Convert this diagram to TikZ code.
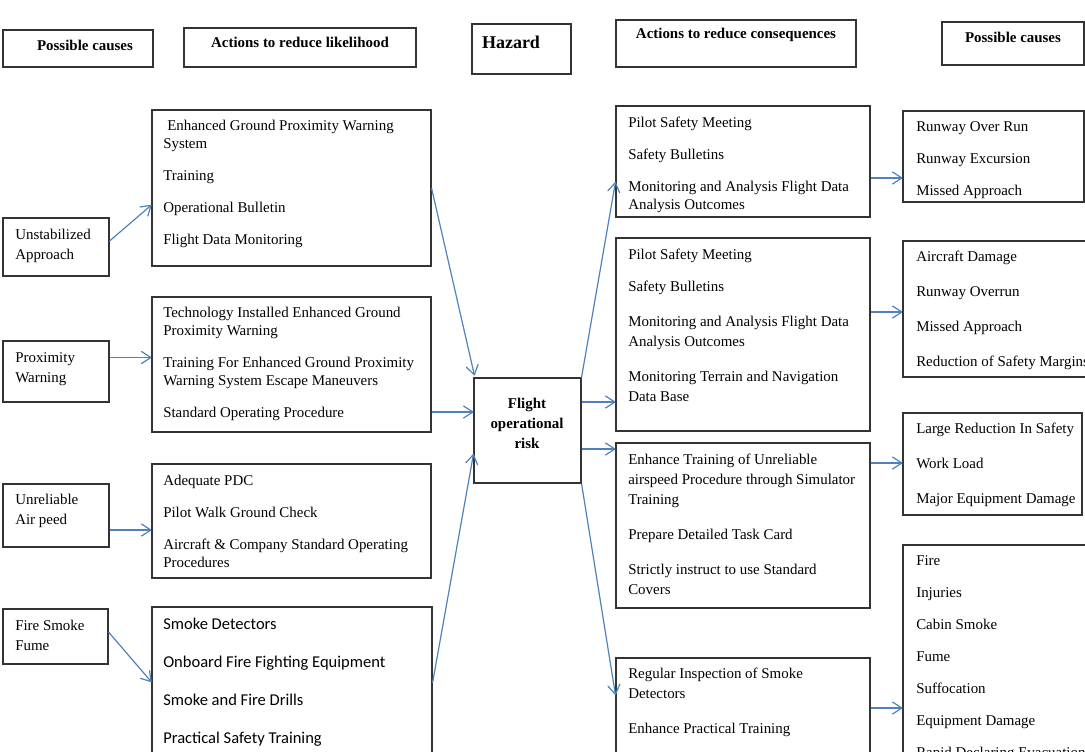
\documentclass[tikz,border=0pt]{standalone}
\usepackage{fontspec}
\setmainfont{Liberation Serif}
\newfontfamily\calibri{Carlito}
\usetikzlibrary{positioning,fit,calc,arrows.meta}
\definecolor{linkblue}{RGB}{79,129,189}
\newcommand\bodyfont{\fontsize{11.2}{13.5}\selectfont}
\newcommand\widefont{\fontsize{11.2}{15}\selectfont}
\newcommand\gap{\\[10.5pt]}
\newcommand\wgap{\\[11.25pt]}
\tikzset{%
  >={Straight Barb[length=7pt,width=9pt,round]},
  box/.style={draw=black!80,line width=0.8pt,inner sep=0pt},
  txt/.style={anchor=north west,align=left,inner sep=0pt,font=\bodyfont},
  wtxt/.style={txt,font=\widefont},
  head/.style={inner sep=0pt,font=\fontsize{11.2}{13.5}\selectfont\bfseries},
  link/.style={->,draw=linkblue,line width=0.9pt}%
}

\begin{document}
\begin{tikzpicture}[x=0.75pt,y=-0.75pt]
	%% page, in pixels of the reference
	\useasboundingbox (0,0) rectangle (1085,751);
	\clip (0,0) rectangle (1085,751);
	
	%% column heads
	\node[box,fit={(3,30) (153,67)}] (pc1) {};
	\node[box,fit={(184,28) (416,67)}] (alk) {};
	\node[box,fit={(472,24) (571,74)}] (hz) {};
	\node[box,fit={(616,20) (856,67)}] (aco) {};
	\node[box,fit={(942,22) (1084,65)}] (pc2) {};
	\node[head] (pc1t) at (85,45) {Possible causes};
	\node[head] (alkt) at (300,42) {Actions to reduce likelihood};
	\node[head,font=\fontsize{13.5}{15}\selectfont\bfseries] (hzt) at (511,42) {Hazard};
	\node[head] (acot) at (736,35) {Actions to reduce consequences};
	\node[head] (pc2t) at (1013,37) {Possible causes};
	
	%% possible causes
	\node[box,fit={(3,218) (109,276)}] (c1) {};
	\node[box,fit={(3,341) (109,402)}] (c2) {};
	\node[box,fit={(3,484) (109,547)}] (c3) {};
	\node[box,fit={(3,609) (108,664)}] (c4) {};
	\node[wtxt] (c1t) at (15,229) {Unstabilized\\Approach};
	\node[wtxt] (c2t) at (15,352) {Proximity\\Warning};
	\node[wtxt] (c3t) at (15,494) {Unreliable\\Air peed};
	\node[wtxt] (c4t) at (15,620) {Fire Smoke\\Fume};
	
	%% actions to reduce likelihood
	\node[box,fit={(152,110) (431,266)}] (l1) {};
	\node[box,fit={(152,297) (431,432)}] (l2) {};
	\node[box,fit={(152,464) (431,578)}] (l3) {};
	\node[box,fit={(152,607) (432,770)}] (l4) {};
	\node[txt] (l1t) at (163,120) {\hspace{3pt}Enhanced Ground Proximity Warning\\System\gap
		Training\gap Operational Bulletin\gap Flight Data Monitoring};
	\node[txt] (l2t) at (163,307) {Technology Installed Enhanced Ground\\Proximity Warning\gap
		Training For Enhanced Ground Proximity\\Warning System Escape Maneuvers\gap
		Standard Operating Procedure};
	\node[txt] (l3t) at (163,475) {Adequate PDC\gap Pilot Walk Ground Check\gap
		Aircraft \& Company Standard Operating\\Procedures};
	\node[txt,font=\calibri\fontsize{12.4}{28.5}\selectfont] (l4t) at (163,618) {Smoke Detectors\\
		Onboard Fire Fighting Equipment\\Smoke and Fire Drills\\Practical Safety Training};
	
	%% hazard
	\node[box,fit={(474,378) (581,483)}] (f) {};
	\node[inner sep=0pt,align=center,font=\fontsize{11.2}{15}\selectfont\bfseries] (ft) at (527,423)
		{Flight\\operational\\risk};
	
	%% actions to reduce consequences
	\node[box,fit={(616,106) (870,217)}] (r1) {};
	\node[box,fit={(616,238) (870,431)}] (r2) {};
	\node[box,fit={(616,443) (870,608)}] (r3) {};
	\node[box,fit={(616,658) (870,770)}] (r4) {};
	\node[txt] (r1t) at (628,117) {Pilot Safety Meeting\gap Safety Bulletins\gap
		Monitoring and Analysis Flight Data\\Analysis Outcomes};
	\node[wtxt] (r2t) at (628,249) {Pilot Safety Meeting\\[9pt] Safety Bulletins\wgap
		Monitoring and Analysis Flight Data\\Analysis Outcomes\wgap
		Monitoring Terrain and Navigation\\Data Base};
	\node[wtxt] (r3t) at (628,454) {Enhance Training of Unreliable\\airspeed Procedure through Simulator\\Training\wgap
		Prepare Detailed Task Card\wgap Strictly instruct to use Standard\\Covers};
	\node[wtxt] (r4t) at (628,668) {Regular Inspection of Smoke\\Detectors\wgap Enhance Practical Training};
	
	%% consequences
	\node[box,fit={(903,111) (1084,202)}] (o1) {};
	\node[box,fit={(903,241) (1100,377)}] (o2) {};
	\node[box,fit={(903,413) (1082,515)}] (o3) {};
	\node[box,fit={(903,545) (1100,800)}] (o4) {};
	\node[txt] (o1t) at (916,121) {Runway Over Run\gap Runway Excursion\gap Missed Approach};
	\node[wtxt] (o2t) at (916,251) {Aircraft Damage\wgap Runway Overrun\wgap Missed Approach\wgap
		Reduction of Safety Margins};
	\node[wtxt] (o3t) at (916,423) {Large Reduction In Safety\wgap Work Load\wgap Major Equipment Damage};
	\node[txt] (o4t) at (916,555) {Fire\gap Injuries\gap Cabin Smoke\gap Fume\gap Suffocation\gap
		Equipment Damage\gap Rapid Declaring Evacuation};
	
	%% arrows, left half
	\draw[link] ($(c1.east)+(0,-6)$) -- ($(l1.west)+(0,17)$);
	\draw[link] ($(c2.east)+(0,-14)$) -- ($(l2.west)+(0,-7)$);
	\draw[link] ($(c3.east)+(0,14.5)$) -- ($(l3.west)+(0,9)$);
	\draw[link] ($(c4.east)+(0,-4.5)$) -- ($(l4.west)+(0,-6.5)$);
	\draw[link] (l1.east) -- ($(f.north west)+(1,-2)$);
	\draw[link] ($(l2.east)+(0,47.5)$) -- ($(f.west)+(0,-18.5)$);
	\draw[link] ($(l4.east)+(0,-5.5)$) -- ($(f.west)+(0,23.5)$);
	
	%% arrows, right half
	\draw[link] (f.north east) -- ($(r1.west)+(0,20.5)$);
	\draw[link] ($(f.east)+(0,-28.5)$) -- ($(r2.west)+(0,67.5)$);
	\draw[link] ($(f.east)+(0,18.5)$) -- ($(r3.west)+(0,-76.5)$);
	\draw[link] (f.south east) -- ($(r4.west)+(0,-19)$);
	\draw[link] ($(r1.east)+(0,16.5)$) -- ($(o1.west)+(0,21.5)$);
	\draw[link] ($(r2.east)+(0,-22.5)$) -- ($(o2.west)+(0,3)$);
	\draw[link] ($(r3.east)+(0,-62.5)$) -- ($(o3.west)+(0,-1)$);
	\draw[link] ($(r4.east)+(0,-6)$) -- ($(o4.west)+(0,35.5)$);
\end{tikzpicture}
\end{document}
